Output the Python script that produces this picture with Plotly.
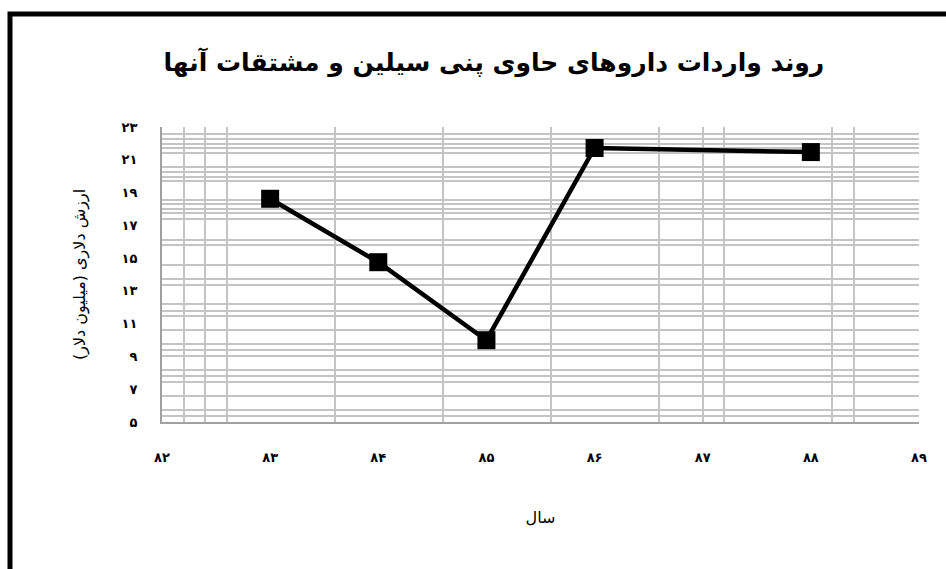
import plotly.graph_objects as go

# Data
years = [83, 84, 85, 86, 88]
values = [18.62, 14.75, 9.99, 21.72, 21.47]

x_tick_vals = [82, 83, 84, 85, 86, 87, 88, 89]
x_tick_text = ["۸۲", "۸۳", "۸۴", "۸۵", "۸۶", "۸۷", "۸۸", "۸۹"]
y_tick_vals = [5, 7, 9, 11, 13, 15, 17, 19, 21, 23]
y_tick_text = ["۵", "۷", "۹", "۱۱", "۱۳", "۱۵", "۱۷", "۱۹", "۲۱", "۲۳"]

# gridline positions as seen in the (aliased) reference
x_grid = [82.2, 82.4, 82.6, 83.6, 84.6, 85.6, 86.6, 87.0, 87.2, 88.2, 88.4]
y_grid = [22.57, 22.27, 21.96, 21.70, 21.39, 20.54, 20.23, 19.93, 19.72,
          18.54, 18.28, 17.99, 17.73, 17.38, 16.10, 15.79, 14.57, 13.70,
          13.35, 12.17, 11.78, 11.45, 10.60, 9.74, 9.38, 9.01, 8.16, 7.79,
          7.42, 6.57, 5.71, 5.35]

title_text = "روند واردات داروهای حاوی پنی سیلین و مشتقات آنها"
y_title = "ارزش دلاری (میلیون دلار)"
x_title = "سال"

FONT = "DejaVu Sans"
GRID = "#c4c4c4"

fig = go.Figure()
fig.add_trace(go.Scatter(
    x=years, y=values, mode="lines+markers",
    line=dict(color="black", width=4.5),
    marker=dict(symbol="square", size=18, color="black"),
    showlegend=False, hoverinfo="x+y",
))

fig.update_layout(
    width=946, height=569,
    margin=dict(l=162, r=27, t=127, b=147),
    paper_bgcolor="white", plot_bgcolor="white",
    font=dict(family=FONT, color="black"),
    title=dict(text="<b>" + title_text + "</b>", xref="container", yref="container",
               x=0.522, y=1 - 62 / 569, xanchor="center", yanchor="middle",
               font=dict(size=25, family=FONT, color="black")),
    xaxis=dict(range=[82, 89], tickmode="array", tickvals=x_tick_vals, ticktext=x_tick_text,
               showgrid=False, zeroline=False, showline=True, linecolor="#a0a0a0", linewidth=2,
               ticks="", ticklabelstandoff=22,
               tickfont=dict(size=13, family=FONT, color="black", weight="bold"),
               minor=dict(tickmode="array", tickvals=x_grid, showgrid=True,
                          gridcolor=GRID, gridwidth=1.5, ticks=""),
               title=dict(text=x_title, standoff=48,
                          font=dict(size=16, family=FONT))),
    yaxis=dict(range=[5, 23], tickmode="array", tickvals=y_tick_vals, ticktext=y_tick_text,
               showgrid=False, zeroline=False, showline=True, linecolor="#a0a0a0", linewidth=2,
               ticks="", ticklabelstandoff=20,
               tickfont=dict(size=13, family=FONT, color="black", weight="bold"),
               minor=dict(tickmode="array", tickvals=y_grid, showgrid=True,
                          gridcolor=GRID, gridwidth=1.5, ticks=""),
               title=dict(text=y_title, standoff=32,
                          font=dict(size=16, family=FONT))),
    shapes=[dict(type="rect", xref="paper", yref="paper",
                 xsizemode="pixel", ysizemode="pixel", xanchor=0, yanchor=1,
                 x0=-152, x1=900, y0=-600, y1=113,
                 line=dict(color="black", width=5), fillcolor="rgba(0,0,0,0)", layer="above")],
)

fig.write_html("out.html")
